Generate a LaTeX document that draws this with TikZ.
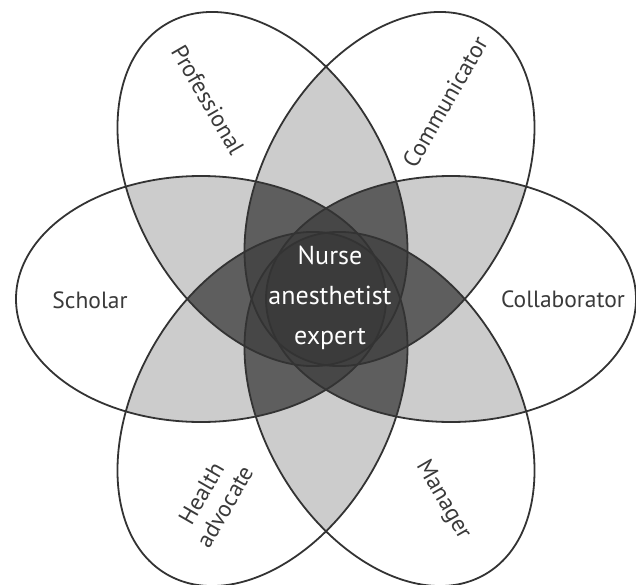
\documentclass[tikz,border=0pt]{standalone}
\usepackage{fontspec}
\setmainfont{PT Sans}
\usepackage{xcolor}

\definecolor{rimgray}{HTML}{333333}
\definecolor{textgray}{HTML}{3A3A3A}
\definecolor{twofold}{HTML}{CCCCCC}
\definecolor{threefold}{HTML}{5E5E5E}
\definecolor{fourfold}{HTML}{474747}
\definecolor{fivefold}{HTML}{414141}
\definecolor{sixfold}{HTML}{3B3B3B}

% petal data: angle, distance, x radius, y radius
\def\pang{{180,120,60,0,-60,-120}}
\def\pdist{{125,127,127,125,127,127}}
\def\prx{{185,191,191,185,191,191}}
\def\pry{{123,126,126,123,126,126}}

\newcommand{\petal}[2]{%
  \pgfmathsetmacro\pa{\pang[#1]}%
  \pgfmathsetmacro\pd{\pdist[#1]}%
  \pgfmathsetmacro\ra{\prx[#1]}%
  \pgfmathsetmacro\rb{\pry[#1]}%
  \path[rotate=\pa,#2] (\pd,0) ellipse (\ra pt and \rb pt);}

\tikzset{
  rim/.style={draw=rimgray, line width=1.8pt},
  role/.style={text=textgray, font=\fontsize{23.5}{27}\selectfont},
  core/.style={text=white, font=\fontsize{26}{40}\selectfont, align=center}
}

\begin{document}
\begin{tikzpicture}[x=1pt,y=1pt]
  \useasboundingbox (-326,-285) rectangle (310,299);

  % two petals
  \foreach \i in {0,...,5}
    \foreach \j in {0,...,5}{
      \ifnum\j>\i
        \begin{scope}
          \petal{\i}{clip}
          \petal{\j}{fill=twofold}
        \end{scope}
      \fi}

  % three petals
  \foreach \i in {0,...,5}
    \foreach \j in {0,...,5}
      \foreach \k in {0,...,5}{
        \ifnum\j>\i \ifnum\k>\j
          \begin{scope}
            \petal{\i}{clip}
            \petal{\j}{clip}
            \petal{\k}{fill=threefold}
          \end{scope}
        \fi\fi}

  % four petals (leave out two)
  \foreach \i in {0,...,5}
    \foreach \j in {0,...,5}{
      \ifnum\j>\i
        \begin{scope}
          \foreach \n in {0,...,5}{
            \ifnum\n=\i\else\ifnum\n=\j\else
              \petal{\n}{clip}
            \fi\fi}
          \fill[fourfold] (-326,-285) rectangle (310,299);
        \end{scope}
      \fi}

  % five petals (leave out one)
  \foreach \i in {0,...,5}{
    \begin{scope}
      \foreach \n in {0,...,5}{
        \ifnum\n=\i\else
          \petal{\n}{clip}
        \fi}
      \fill[fivefold] (-326,-285) rectangle (310,299);
    \end{scope}}

  % all six
  \begin{scope}
    \foreach \n in {0,...,5}{\petal{\n}{clip}}
    \fill[sixfold] (-326,-285) rectangle (310,299);
  \end{scope}

  % outlines
  \foreach \i in {0,...,5}{\petal{\i}{rim}}

  \node[role] (scholar) at (-236,-1) {Scholar};
  \node[role] (collaborator) at (237,0) {Collaborator};
  \node[role, rotate=-60] (professional) at (-118,199) {Professional};
  \node[role, rotate=60] (communicator) at (119,197) {Communicator};
  \node[role, rotate=60, align=center] (healthadv) at (-113,-201) {Health\\advocate};
  \node[role, rotate=-60] (manager) at (117,-201) {Manager};
  \node[core] (expert) at (4,1) {Nurse\\anesthetist\\expert};
\end{tikzpicture}
\end{document}
